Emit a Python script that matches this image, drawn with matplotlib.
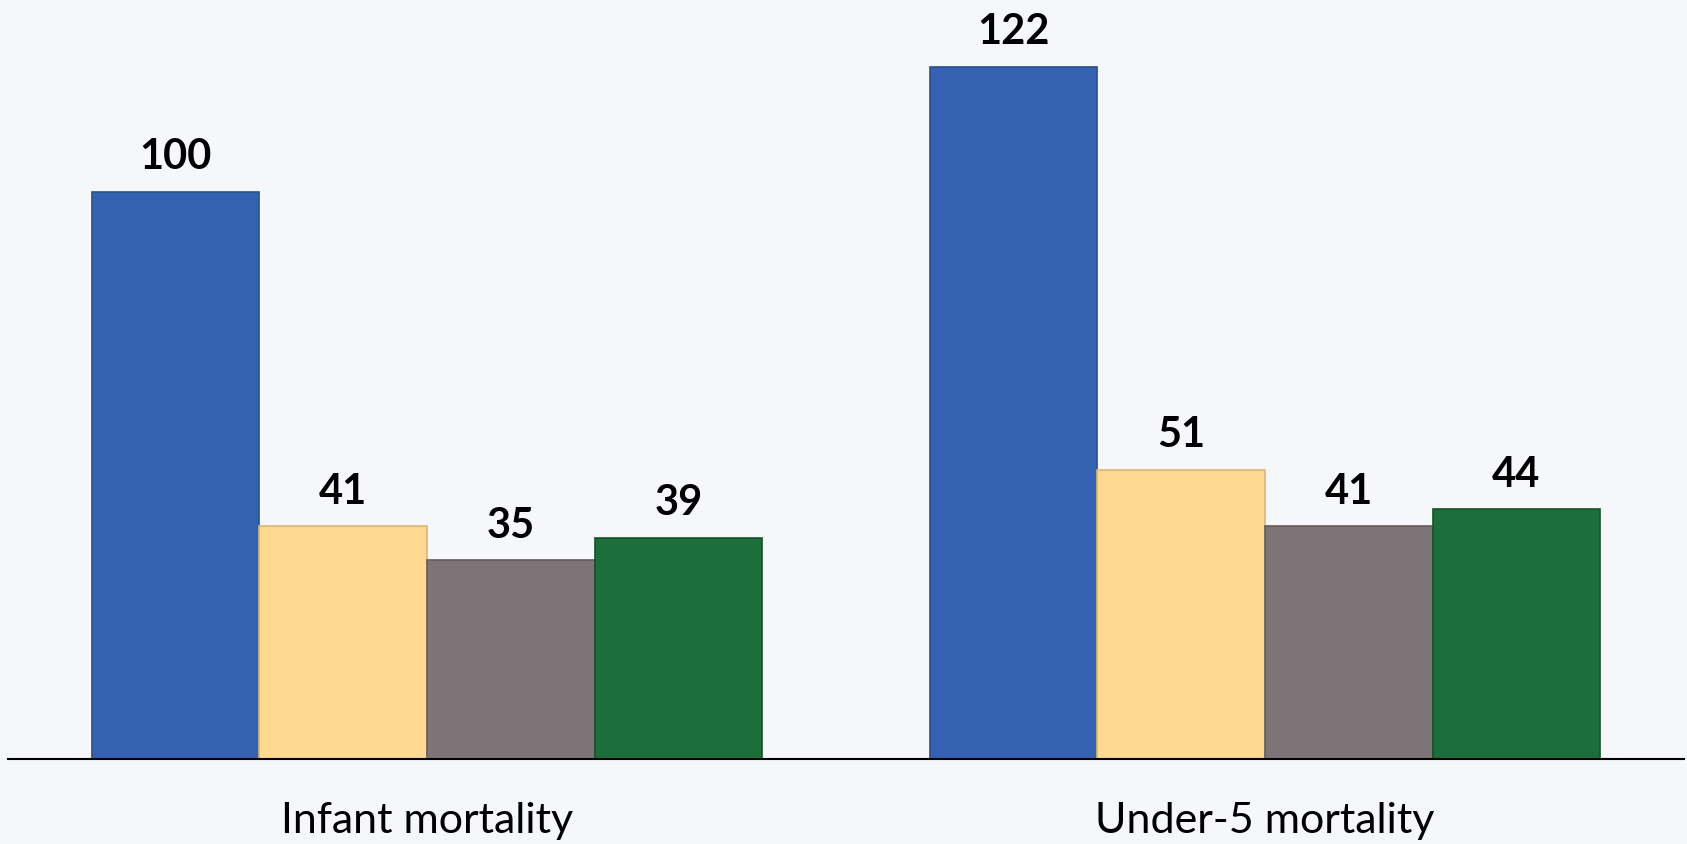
import numpy as np
import matplotlib.pyplot as plt

categories = ['Infant mortality', 'Under-5 mortality']
series_1 = [100, 122]
series_2 = [41, 51]
series_3 = [35, 41]
series_4 = [39, 44]

colors = ['#3462B0', '#FFD892', '#7E7477', '#1C6E3B']
edges = ['#2A4F8E', '#D9B873', '#655C5E', '#145229']
bg = '#F5F7FB'

plt.rcParams['font.family'] = ['Lato', 'DejaVu Sans']

fig = plt.figure(figsize=(16.87, 8.45), dpi=100, facecolor=bg)
ax = fig.add_axes([8 / 1687, 85 / 845, 1676 / 1687, 760 / 845])
ax.set_facecolor(bg)

x = np.arange(len(categories))
width = 0.2
all_series = [series_1, series_2, series_3, series_4]
for i, vals in enumerate(all_series):
    pos = x + (i - 1.5) * width
    bars = ax.bar(pos, vals, width, color=colors[i], edgecolor=edges[i], linewidth=1.2, zorder=2)
    for b, v in zip(bars, vals):
        ax.annotate(str(v), (b.get_x() + b.get_width() / 2, v), xytext=(0, 12),
                    textcoords='offset points', ha='center', va='bottom',
                    fontsize=30, fontweight='bold', color='black')

ax.set_xlim(-0.5, 1.5)
ax.set_ylim(0, 134)
for s in ['top', 'right', 'left']:
    ax.spines[s].set_visible(False)
ax.spines['bottom'].set_color('black')
ax.spines['bottom'].set_linewidth(1.5)
ax.set_yticks([])
ax.set_xticks(x)
ax.set_xticklabels(categories, fontsize=31)
ax.tick_params(axis='x', length=0, pad=30)

fig.savefig('out.png', dpi=100, facecolor=bg)
